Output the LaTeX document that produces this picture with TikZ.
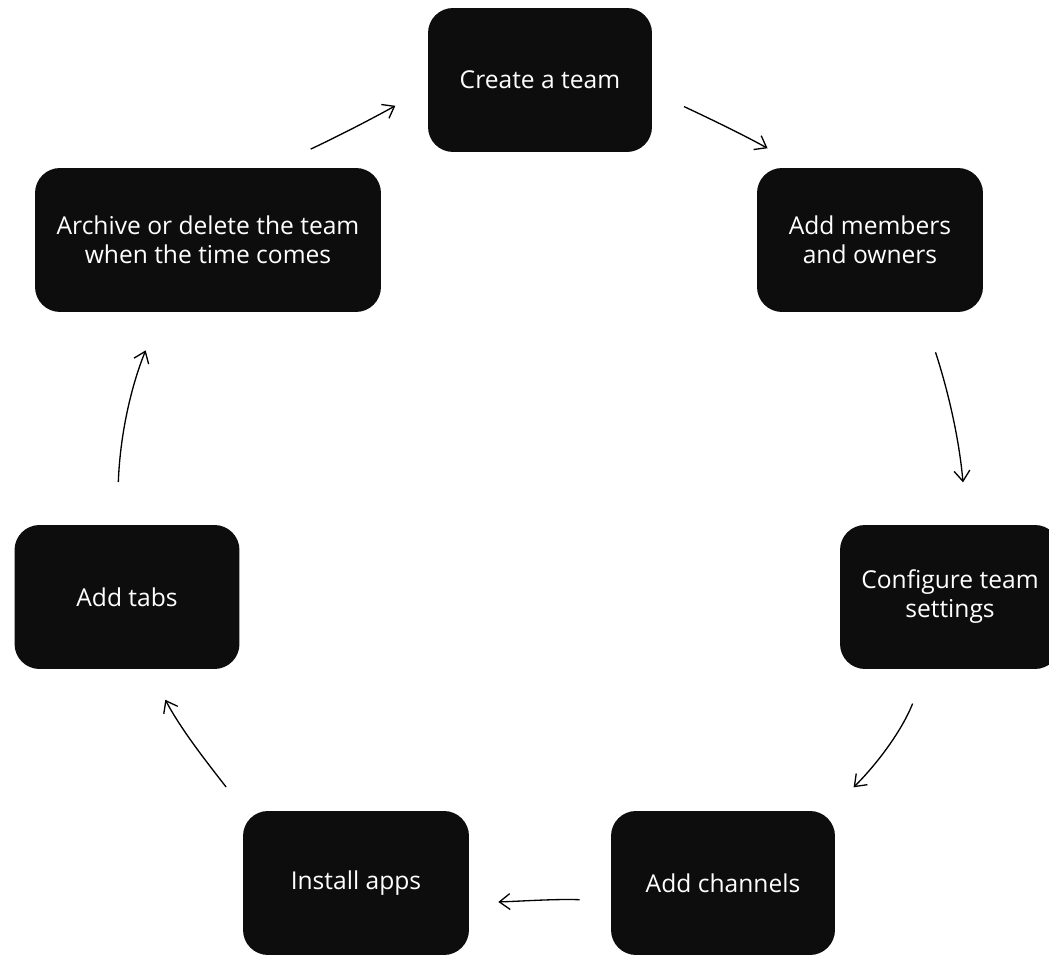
\documentclass[tikz,border=0pt]{standalone}
\usepackage{fontspec}
\setmainfont{Open Sans}
\usetikzlibrary{arrows.meta}
\definecolor{boxblack}{HTML}{0D0D0D}
\tikzset{
  stage/.style={fill=boxblack, text=white, rounded corners=0.5cm, inner sep=0pt,
    minimum height=2.88cm, align=center, font=\fontsize{14}{16.5}\selectfont},
  flow/.style={-{Straight Barb[length=6pt,width=9pt]}, line width=0.75pt}
}
\begin{document}
\begin{tikzpicture}[x=0.02cm, y=0.02cm]
        \useasboundingbox (0, 0) rectangle (1049, -955);
        \path (540, -80) node[stage, minimum width=4.48cm] (create) {Create a team}
              (870, -240) node[stage, minimum width=4.52cm] (members) {Add members\\and owners}
              (950, -597) node[stage, minimum width=4.4cm] (config) {Configure team\\settings}
              (723, -883) node[stage, minimum width=4.48cm] (channels) {Add channels}
              (356, -883) node[stage, minimum width=4.52cm] (apps) {Install apps}
              (127, -597) node[stage, minimum width=4.5cm] (tabs) {Add tabs}
              (208, -240) node[stage, minimum width=6.92cm] (archive) {Archive or delete the team\\when the time comes};
        \draw[flow, shorten <=0.88cm, shorten >=0.74cm] (archive.49) to[out=25, in=209] (create.184);
        \draw[flow, shorten <=0.7cm, shorten >=0.8cm] (create.-6) to[out=-25, in=151] (members.133);
        \draw[flow, shorten <=0.84cm, shorten >=0.85cm] (members.-54) to[out=-72, in=95] (config.77);
        \draw[flow, shorten <=0.74cm, shorten >=0.66cm] (config.-108) to[out=-112, in=45] (channels.34);
        \draw[flow, shorten <=0.62cm, shorten >=0.58cm] (channels.189) to[out=178, in=2] (apps.-10);
        \draw[flow, shorten <=0.6cm, shorten >=0.69cm] (apps.147) to[out=128, in=-62] (tabs.-73);
        \draw[flow, shorten <=0.85cm, shorten >=0.82cm] (tabs.98) to[out=88, in=-112] (archive.-123);
    \end{tikzpicture}
\end{document}
